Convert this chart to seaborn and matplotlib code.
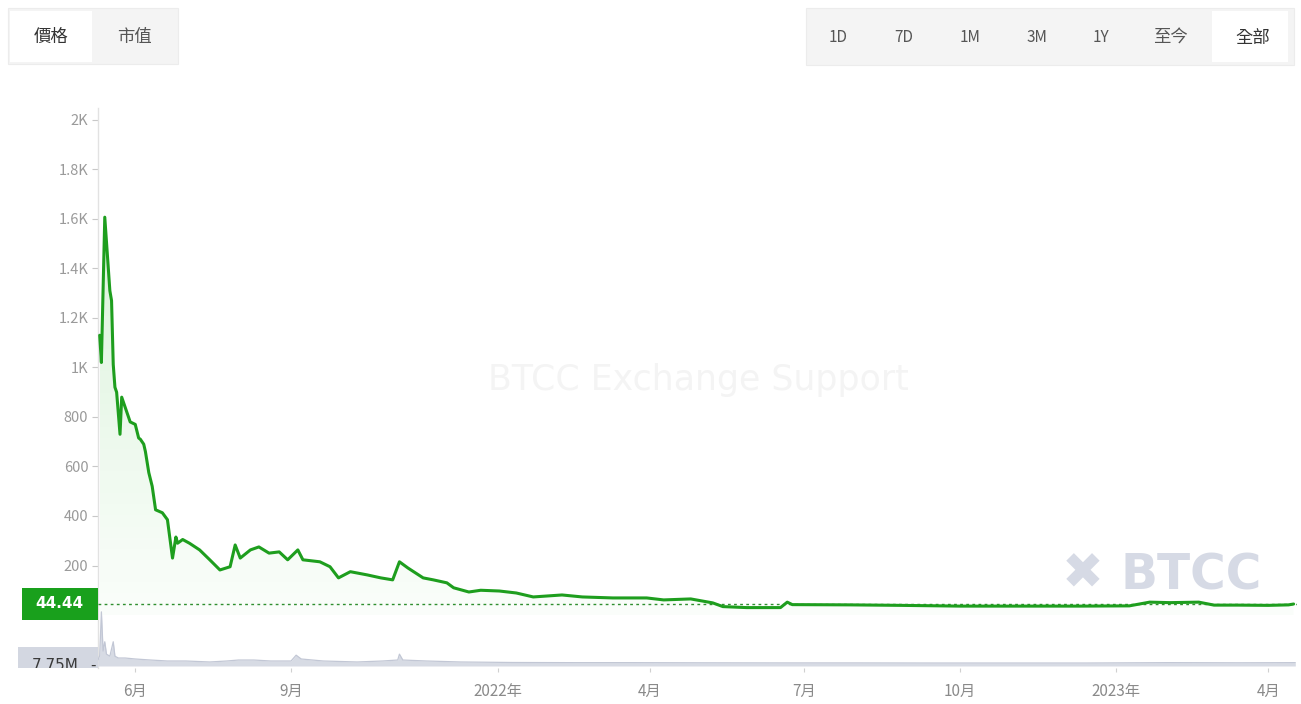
import numpy as np
import pandas as pd
import matplotlib
matplotlib.use("Agg")
import matplotlib.pyplot as plt
import matplotlib.dates as mdates
from matplotlib.patches import Rectangle, Polygon
from matplotlib.transforms import Bbox, TransformedBbox
import seaborn as sns

# ---------------- data ----------------
price_dates = [
    "2021-05-11", "2021-05-12", "2021-05-14", "2021-05-17", "2021-05-18", "2021-05-19",
    "2021-05-20", "2021-05-21", "2021-05-23", "2021-05-24", "2021-05-27", "2021-05-29",
    "2021-06-01", "2021-06-03", "2021-06-04", "2021-06-06", "2021-06-07", "2021-06-09",
    "2021-06-11", "2021-06-13", "2021-06-17", "2021-06-20", "2021-06-23", "2021-06-25",
    "2021-06-26", "2021-06-29", "2021-07-03", "2021-07-09", "2021-07-15", "2021-07-21",
    "2021-07-27", "2021-07-30", "2021-08-02", "2021-08-08", "2021-08-13", "2021-08-19",
    "2021-08-25", "2021-08-30", "2021-09-05", "2021-09-08", "2021-09-18", "2021-09-24",
    "2021-09-29", "2021-10-06", "2021-10-16", "2021-10-24", "2021-10-31", "2021-11-04",
    "2021-11-09", "2021-11-18", "2021-11-24", "2021-12-02", "2021-12-06", "2021-12-15",
    "2021-12-22", "2022-01-02", "2022-01-12", "2022-01-22", "2022-02-08", "2022-02-20",
    "2022-03-10", "2022-03-30", "2022-04-09", "2022-04-25", "2022-05-08", "2022-05-14",
    "2022-05-28", "2022-06-17", "2022-06-21", "2022-06-24", "2022-07-28", "2022-08-27",
    "2022-10-01", "2022-11-05", "2022-12-11", "2023-01-09", "2023-01-21", "2023-02-02",
    "2023-02-19", "2023-02-28", "2023-03-14", "2023-04-01", "2023-04-13", "2023-04-16",
]
price_values = [
    1130, 1020, 1607, 1310, 1270, 1012,
    920, 900, 730, 880, 820, 780,
    770, 715, 710, 690, 660, 575,
    520, 425, 413, 385, 230, 315,
    290, 305, 290, 263, 223, 182,
    195, 283, 230, 263, 275, 250,
    255, 223, 263, 223, 215, 195,
    150, 175, 162, 150, 142, 215,
    190, 150, 142, 130, 110, 93,
    100, 97, 89, 73, 81, 73,
    69, 69, 61, 65, 49, 34,
    30, 30, 52, 42, 41, 39,
    36, 36, 36, 37, 52, 50,
    52, 40, 40, 39, 41, 44.44,
]

vol_dates = [
    "2021-05-10", "2021-05-11", "2021-05-12", "2021-05-13", "2021-05-14", "2021-05-15",
    "2021-05-17", "2021-05-19", "2021-05-20", "2021-05-22", "2021-05-26", "2021-06-01",
    "2021-06-10", "2021-06-20", "2021-07-01", "2021-07-15", "2021-07-25", "2021-08-01",
    "2021-08-10", "2021-08-20", "2021-09-01", "2021-09-04", "2021-09-07", "2021-09-20",
    "2021-10-10", "2021-10-25", "2021-11-03", "2021-11-04", "2021-11-06", "2021-11-20",
    "2021-12-10", "2022-01-10", "2022-02-15", "2022-03-20", "2022-05-01", "2022-06-15",
    "2022-08-01", "2022-09-15", "2022-11-01", "2022-12-15", "2023-02-01", "2023-03-15",
    "2023-04-17",
]
vol_values = [  # millions
    12, 20, 105, 29, 47, 23,
    19, 47, 19, 15.5, 15.5, 13.6,
    11.6, 9.7, 9.7, 7.8, 9.7, 11.6,
    11.6, 9.7, 9.7, 21, 13.6, 9.7,
    7.8, 9.7, 11.6, 23, 11.6, 9.7,
    7.8, 6.8, 6.5, 6.5, 6.2, 6,
    6, 5.8, 5.8, 5.8, 6.5, 6.2,
    6.5,
]

y_ticks = [200, 400, 600, 800, 1000, 1200, 1400, 1600, 1800, 2000]
y_tick_labels = ["200", "400", "600", "800", "1K", "1.2K", "1.4K", "1.6K", "1.8K", "2K"]
x_tick_dates = ["2021-06-01", "2021-09-01", "2022-01-01", "2022-04-01",
                "2022-07-01", "2022-10-01", "2023-01-01", "2023-04-01"]
x_tick_labels = ["6月", "9月", "2022年", "4月", "7月", "10月", "2023年", "4月"]
current_price = 44.44
current_price_label = "44.44"
vol_mark_label = "7.75M"
tab_buttons = ["價格", "市值"]
range_buttons = ["1D", "7D", "1M", "3M", "1Y", "至今", "全部"]
watermark = "BTCC Exchange Support"
logo_text = "BTCC"

# ---------------- style ----------------
sns.set_theme(style="white")
plt.rcParams['font.family'] = ['Noto Sans CJK TC', 'DejaVu Sans']

GREEN = "#1e9e1e"
W, H = 1301, 704
fig = plt.figure(figsize=(W / 100, H / 100), dpi=100)
fig.patch.set_facecolor("white")


def fx(px):
    return px / W


def fy(py):
    return 1 - py / H


ax_left, ax_right, ax_top, ax_bot = 98, 1297, 108, 668
ax = fig.add_axes([fx(ax_left), fy(ax_bot), fx(ax_right) - fx(ax_left), fy(ax_top) - fy(ax_bot)])

df = pd.DataFrame({"date": pd.to_datetime(price_dates), "price": price_values})
sns.lineplot(data=df, x="date", y="price", ax=ax, color=GREEN, linewidth=2.2, zorder=4)

# gradient fill under the line
xd = mdates.date2num(df["date"])
verts = [(xd[0], 0)] + list(zip(xd, df["price"])) + [(xd[-1], 0)]
poly = Polygon(verts, closed=True, facecolor="none", edgecolor="none")
ax.add_patch(poly)
grad = np.zeros((256, 1, 4))
grad[..., 0], grad[..., 1], grad[..., 2] = 0.12, 0.72, 0.12
grad[..., 3] = np.linspace(0.02, 0.16, 256)[:, None]
im = ax.imshow(grad, extent=[xd[0], xd[-1], 0, max(price_values)], origin="lower",
               aspect="auto", zorder=2, interpolation="bilinear")
im.set_clip_path(poly)

ax.axhline(current_price, color="#2f8f2f", linestyle=(0, (2, 2.4)), linewidth=1.0, zorder=3)

ax.set_xlim(pd.Timestamp("2021-05-10"), pd.Timestamp("2023-04-18"))
ax.set_ylim(-214, 2048)
ax.set_yticks(y_ticks, y_tick_labels)
ax.set_xticks(pd.to_datetime(x_tick_dates), x_tick_labels)
ax.tick_params(axis="y", left=True, length=4, width=0.8, color="#c8c8c8",
               labelcolor="#9a9a9a", labelsize=10.5, pad=3)
ax.tick_params(axis="x", bottom=True, length=3, width=0.8, color="#d0d0d0",
               labelcolor="#8a8a8a", labelsize=11, pad=8)
ax.set_xlabel("")
ax.set_ylabel("")
for s in ["top", "right", "bottom"]:
    ax.spines[s].set_visible(False)
ax.spines["left"].set_color("#e2e2e2")
ax.spines["left"].set_linewidth(1.0)
ax.grid(False)

# volume strip
vax = fig.add_axes([fx(ax_left), fy(666), fx(ax_right) - fx(ax_left), fy(600) - fy(666)],
                   sharex=ax)
vdf = pd.DataFrame({"date": pd.to_datetime(vol_dates), "vol": vol_values})
vax.fill_between(vdf["date"], vdf["vol"], 0, color="#d3d7e2", alpha=0.9, linewidth=0)
sns.lineplot(data=vdf, x="date", y="vol", ax=vax, color="#c2c7d5", linewidth=0.9)
vax.set_ylim(0, 128)
vax.patch.set_visible(False)
vax.axis("off")

# current price tag
fig.patches.append(Rectangle((fx(22), fy(620)), fx(98) - fx(22), fy(588) - fy(620),
                             transform=fig.transFigure, facecolor="#19a01c", edgecolor="none"))
fig.text(fx(59), fy(604), current_price_label, color="white", fontsize=11, fontweight="bold",
         ha="center", va="center", family="DejaVu Sans")

# volume tag (cut off at the bottom)
fig.patches.append(Rectangle((fx(18), fy(668)), fx(98) - fx(18), fy(647) - fy(668),
                             transform=fig.transFigure, facecolor="#d3d7e1", edgecolor="none"))
clip = TransformedBbox(Bbox([[fx(0), fy(668)], [fx(100), fy(647)]]), fig.transFigure)
t = fig.text(fx(55), fy(666), vol_mark_label, color="#3a3a3a", fontsize=11,
             ha="center", va="center", family="DejaVu Sans")
t.set_clip_box(clip)
t.set_clip_on(True)
t2 = fig.text(fx(93), fy(665), "-", color="#3a3a3a", fontsize=11, ha="center", va="center",
              family="DejaVu Sans")

# watermark and logo
fig.text(fx(698), fy(380), watermark, fontsize=25, color="#f4f4f4", ha="center", va="center",
         family="DejaVu Sans", zorder=0)
fig.text(fx(1083), fy(575), "✖", fontsize=36, color="#d6dae5", ha="center", va="center",
         family="DejaVu Sans")
fig.text(fx(1191), fy(575), logo_text, fontsize=35, color="#d6dae5", ha="center", va="center",
         fontweight="bold", family="DejaVu Sans")

# top-left tab box
fig.patches.append(Rectangle((fx(8), fy(64)), fx(178) - fx(8), fy(8) - fy(64),
                             transform=fig.transFigure, facecolor="#f4f4f4", edgecolor="#ececec",
                             linewidth=0.8))
fig.patches.append(Rectangle((fx(10), fy(62)), fx(92) - fx(10), fy(11) - fy(62),
                             transform=fig.transFigure, facecolor="white", edgecolor="none"))
tab_x = [51, 134]
for lab, x0, c in zip(tab_buttons, tab_x, ["#333333", "#555555"]):
    fig.text(fx(x0), fy(37), lab, fontsize=12.5, color=c, ha="center", va="center")

# top-right range box
fig.patches.append(Rectangle((fx(806), fy(65)), fx(1294) - fx(806), fy(8) - fy(65),
                             transform=fig.transFigure, facecolor="#f4f4f4", edgecolor="#ececec",
                             linewidth=0.8))
fig.patches.append(Rectangle((fx(1212), fy(62)), fx(1288) - fx(1212), fy(11) - fy(62),
                             transform=fig.transFigure, facecolor="white", edgecolor="none"))
range_x = [838, 904, 970, 1037, 1101, 1170, 1253]
for lab, x0 in zip(range_buttons, range_x):
    c = "#333333" if lab == "全部" else "#555555"
    fs = 12.5 if any(ord(ch) > 255 for ch in lab) else 11
    fig.text(fx(x0), fy(38), lab, fontsize=fs, color=c, ha="center", va="center")

fig.savefig("out.png", dpi=100, facecolor="white")
